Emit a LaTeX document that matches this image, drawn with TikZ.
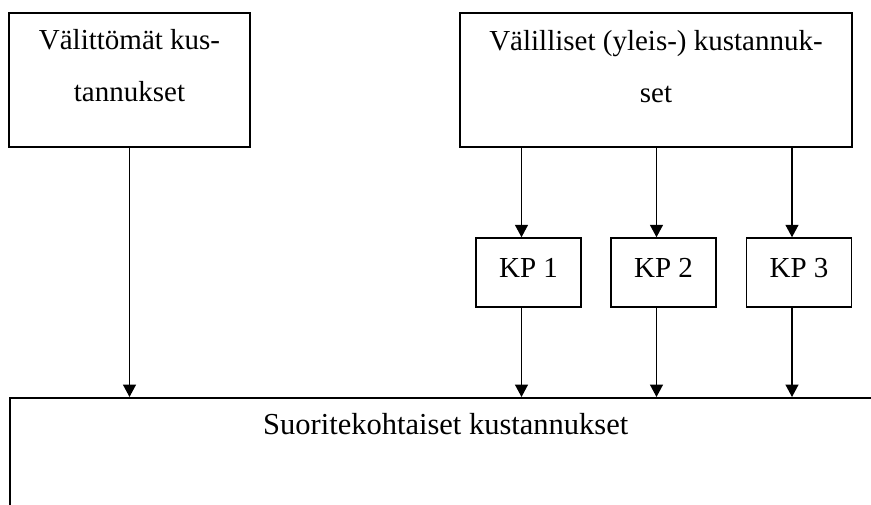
\documentclass[tikz,border=0pt]{standalone}
\usepackage{fontspec}
\setmainfont{Liberation Serif}
\usetikzlibrary{arrows.meta}
\begin{document}
\begin{tikzpicture}[x=1pt,y=1pt,
  every node/.style={font=\fontsize{29pt}{52pt}\selectfont, inner sep=0pt},
  box/.style={draw, line width=1.5pt, align=center},
  kpbox/.style={box, minimum width=105pt, minimum height=69pt, text depth=10pt},
  flow/.style={line width=1.5pt, -{Triangle[length=12.5pt,width=13pt]}}]
\clip (0,0) rectangle (871,-504);
\fill[white] (0,0) rectangle (871,-504);

% cost sources
\node[box, minimum width=241pt, minimum height=134pt] (direct) at (129.5,-80)
  {Välittömät kus-\\tannukset\rule[-30pt]{0pt}{0pt}};
\node[box, minimum width=392pt, minimum height=134pt] (indirect) at (656,-80)
  {Välilliset (yleis-) kustannuk-\\set\rule[-28pt]{0pt}{0pt}};

% cost centres
\node[kpbox] (kp1) at (528.5,-272.5) {KP 1};
\node[kpbox] (kp2) at (663.5,-272.5) {KP 2};
\node[kpbox] (kp3) at (799,-272.5) {KP 3};

% cost objects
\node[box, anchor=north west, minimum width=872pt, minimum height=200pt,
      font=\fontsize{30.5pt}{36pt}\selectfont,
      text depth=146.8pt] (perf) at (9,-397) {Suoritekohtaiset kustannukset};

% connectors
\draw[flow] (direct.south) -- (direct.south |- perf.north);
\foreach \k in {kp1,kp2,kp3}{
  \draw[flow] ([xshift=-7pt]\k.north |- indirect.south) -- ([xshift=-7pt]\k.north);
  \draw[flow] ([xshift=-7pt]\k.south) -- ([xshift=-7pt]\k.south |- perf.north);
}
\end{tikzpicture}
\end{document}
